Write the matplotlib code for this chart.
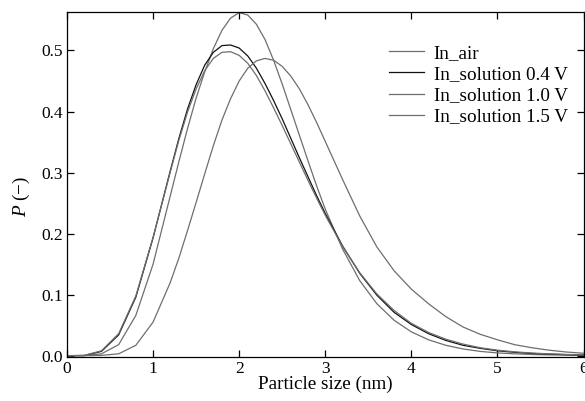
import matplotlib
matplotlib.use('Agg')
import matplotlib.pyplot as plt

plt.rcParams['font.family'] = ['Liberation Serif', 'DejaVu Serif']
plt.rcParams['mathtext.fontset'] = 'custom'
plt.rcParams['mathtext.rm'] = 'Liberation Serif'
plt.rcParams['mathtext.it'] = 'Liberation Serif:italic'

# particle size grid (nm)
size_nm = [0.0, 0.2, 0.4, 0.6, 0.8, 1.0, 1.2, 1.3, 1.4, 1.5, 1.6, 1.7, 1.8, 1.9,
           2.0, 2.1, 2.2, 2.3, 2.4, 2.5, 2.6, 2.7, 2.8, 2.9, 3.0, 3.2, 3.4, 3.6,
           3.8, 4.0, 4.2, 4.4, 4.6, 4.8, 5.0, 5.2, 5.4, 5.6, 5.8, 6.0]

p_air = [0.0, 0.0, 0.003, 0.018, 0.066, 0.150, 0.262, 0.318, 0.372, 0.422,
         0.465, 0.503, 0.533, 0.553, 0.562, 0.558, 0.543, 0.518, 0.484, 0.445,
         0.403, 0.361, 0.319, 0.278, 0.240, 0.175, 0.123, 0.085, 0.058, 0.039,
         0.026, 0.017, 0.011, 0.007, 0.0045, 0.003, 0.002, 0.0013, 0.0008, 0.0005]

p_sol_04 = [0.0, 0.0003, 0.007, 0.034, 0.096, 0.193, 0.303, 0.356, 0.404, 0.444,
            0.476, 0.497, 0.508, 0.509, 0.504, 0.491, 0.471, 0.446, 0.418, 0.388,
            0.356, 0.324, 0.293, 0.262, 0.233, 0.180, 0.135, 0.099, 0.071, 0.051,
            0.036, 0.025, 0.017, 0.012, 0.008, 0.0055, 0.0037, 0.0025, 0.0017, 0.0011]

p_sol_10 = [0.0, 0.0004, 0.008, 0.036, 0.098, 0.194, 0.301, 0.353, 0.399, 0.437,
            0.467, 0.487, 0.497, 0.498, 0.492, 0.479, 0.459, 0.434, 0.406, 0.377,
            0.347, 0.317, 0.287, 0.258, 0.230, 0.179, 0.136, 0.101, 0.074, 0.053,
            0.038, 0.027, 0.019, 0.013, 0.009, 0.0063, 0.0043, 0.003, 0.002, 0.0014]

p_sol_15 = [0.0, 0.0, 0.0005, 0.003, 0.017, 0.055, 0.120, 0.160, 0.205, 0.251,
            0.298, 0.344, 0.386, 0.421, 0.450, 0.471, 0.483, 0.487, 0.484, 0.474,
            0.458, 0.437, 0.411, 0.382, 0.351, 0.289, 0.229, 0.178, 0.139, 0.109,
            0.085, 0.064, 0.047, 0.035, 0.026, 0.018, 0.013, 0.009, 0.006, 0.004]

labels = ['In_air', 'In_solution 0.4 V', 'In_solution 1.0 V', 'In_solution 1.5 V']
colors = ['#6e6e6e', '#111111', '#6e6e6e', '#6e6e6e']

fig = plt.figure(figsize=(5.85, 4.01), dpi=100)
ax = fig.add_axes([0.1145, 0.110, 0.883, 0.860])

for series, lab, col in zip([p_air, p_sol_04, p_sol_10, p_sol_15], labels, colors):
    ax.plot(size_nm, series, color=col, lw=0.9, label=lab)

ax.set_xlim(0, 6)
ax.set_ylim(-0.002, 0.563)
ax.set_xticks(range(7))
ax.set_yticks([0.0, 0.1, 0.2, 0.3, 0.4, 0.5])
ax.set_yticklabels(['0.0', '0.1', '0.2', '0.3', '0.4', '0.5'])
ax.tick_params(direction='in', top=True, right=True, length=5, width=0.9,
               labelsize=12.5, pad=3)
for sp in ax.spines.values():
    sp.set_linewidth(0.9)

ax.set_xlabel('Particle size (nm)', fontsize=13.8, labelpad=-1)
ax.set_ylabel(r'$P$ (−)', fontsize=13.8)
ax.yaxis.set_label_coords(-0.068, 0.465)

ax.legend(loc='upper right', bbox_to_anchor=(0.995, 0.945), frameon=False,
          fontsize=13.8, handlelength=1.85, handletextpad=0.48, labelspacing=0.2,
          borderpad=0.2)

fig.savefig('out.png', dpi=100)
